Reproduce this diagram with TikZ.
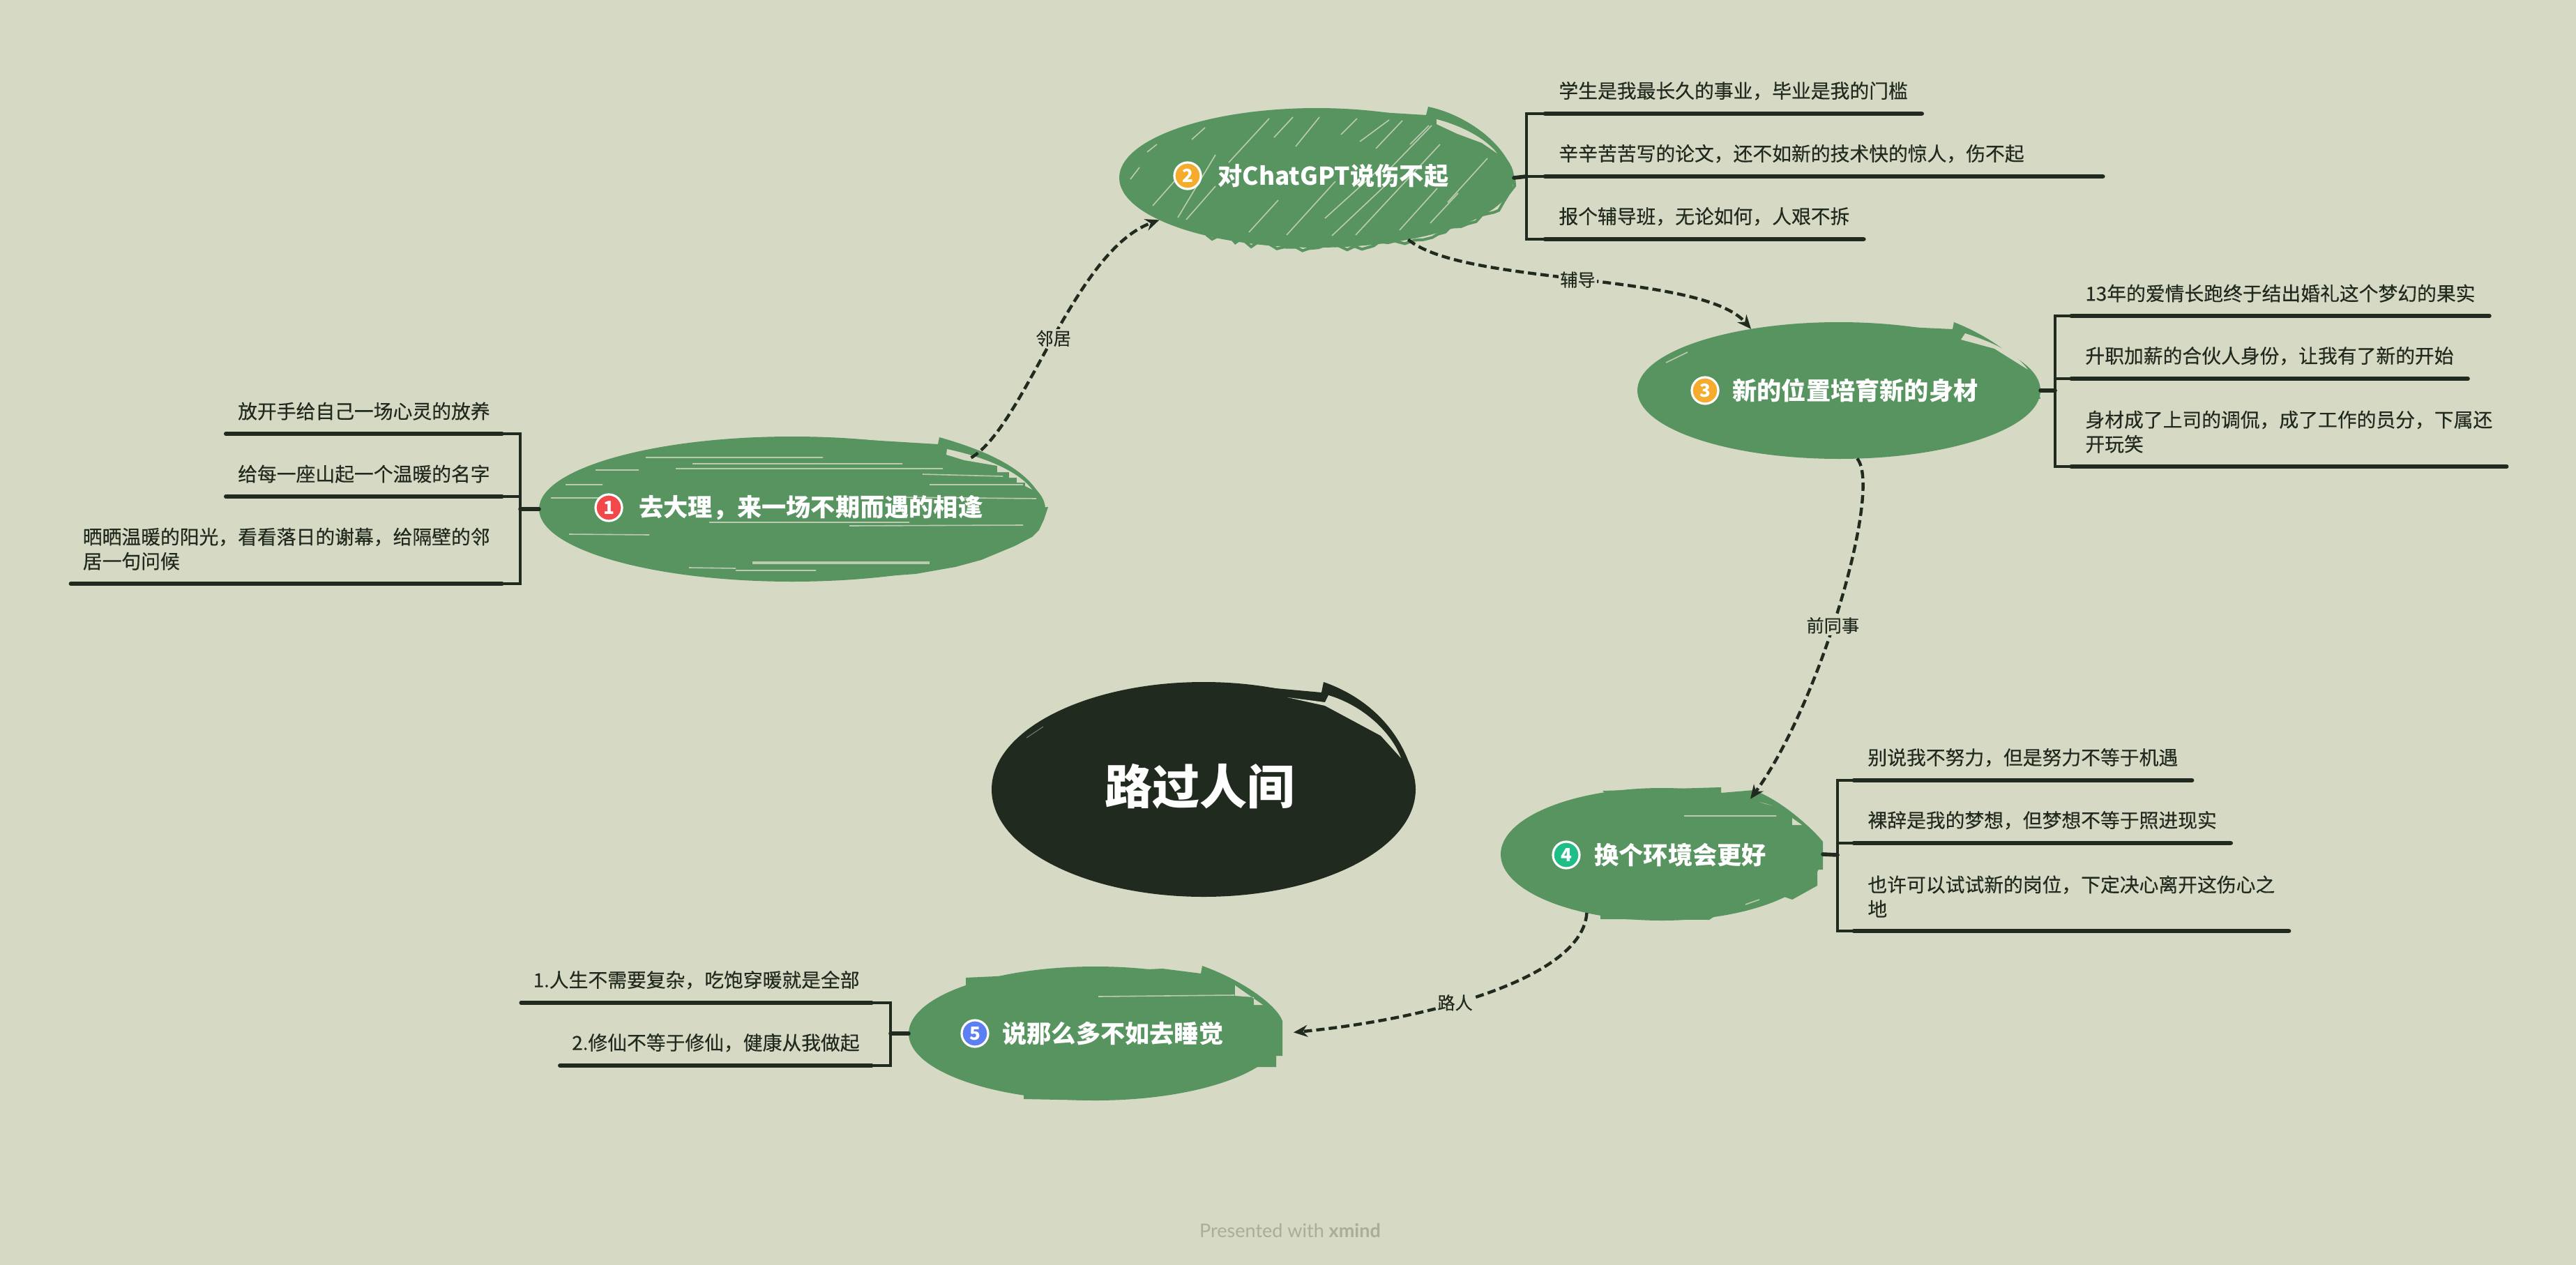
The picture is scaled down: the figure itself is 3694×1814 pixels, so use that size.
\documentclass[tikz,border=0pt]{standalone}
\usepackage{fontspec}
\usetikzlibrary{shapes.geometric,arrows.meta,decorations.pathmorphing}
\setmainfont{Noto Sans CJK SC}
\newfontfamily\subfont[FakeBold=0.35]{Noto Sans CJK SC}
\newfontfamily\markfont{Lato}
\definecolor{paper}{HTML}{D6D9C3}
\definecolor{leaf}{HTML}{579460}
\definecolor{ink}{HTML}{212A1E}
\definecolor{markgray}{HTML}{A9AE9A}
\begin{document}
\begin{tikzpicture}[x=0.5pt,y=-0.5pt,
  blob/.style={ellipse,fill=leaf,inner sep=0pt,outer sep=0pt},
  badge/.style={circle,draw=white,line width=1.6pt,minimum size=19pt,inner sep=0pt,text=white,font=\bfseries\fontsize{13}{13}\selectfont},
  topictext/.style={anchor=west,inner sep=0pt,text=white,font=\bfseries\fontsize{17.6}{20}\selectfont},
  subtext/.style={align=left,inner xsep=10pt,inner ysep=9.5pt,text=ink,font=\subfont\fontsize{13.9}{17.5}\selectfont},
  subleft/.style={subtext,anchor=south east,inner xsep=8.5pt},
  under/.style={draw=ink,line width=2.8pt,line cap=round},
  bracket/.style={draw=ink,line width=1.7pt},
  link/.style={draw=ink,line width=2.2pt,dash pattern=on 6pt off 3pt,-{Stealth[length=10pt,width=8.5pt]}},
  linklabel/.style={fill=paper,inner sep=1pt,text=ink,font=\subfont\fontsize{12.6}{14}\selectfont},
  streak/.style={draw=paper,line width=0.8pt,opacity=.8},
  rough/.style={draw=leaf,line width=2pt,decorate,decoration={random steps,segment length=6pt,amplitude=2.5pt}}]
\pgfmathsetseed{7}
\fill[paper] (0,0) rectangle (3694,1814);

% central
\node[blob,fill=ink,minimum width=304pt,minimum height=154pt] (central) at (1726,1132){};
\fill[ink] (1730,978) -- (1895,993) -- (1898,978) .. controls (1970,1003) and (2020,1060) .. (2030,1132) -- (1800,1100) -- cycle;
\fill[paper] (1905,997) .. controls (1955,1012) and (1995,1050) .. (2009,1087) -- (1980,1055) -- (1900,1012) -- (1846,1000) -- (1900,1007) -- cycle;
\draw[paper,line width=0.5pt,opacity=.5] (1472,1058) -- (1496,1042);
\node[text=white,inner sep=0pt,font=\bfseries\fontsize{34}{36}\selectfont] (title) at (1720,1128){路过人间};

% topic 1
\node[blob,minimum width=363pt,minimum height=104pt] (topic1) at (1136,730){};
\fill[leaf] (1180,627) -- (1345,637) -- (1347,627) .. controls (1410,645) and (1490,675) .. (1500,735) -- (1300,720) -- cycle;
\fill[leaf] (1503,727) -- (1497,745) -- (1490,760) -- (1480,770) -- (1455,783) -- (1407,803) -- (1370,813) -- (1313,823) -- (1217,830) -- (1200,760) -- cycle;
\fill[paper] (1358,644) .. controls (1410,655) and (1460,675) .. (1480,702) -- (1470,697) -- (1470,692) -- (1458,692) -- (1458,685) -- (1447,685) -- (1447,677) -- (1430,677) -- (1430,668) -- (1383,660) -- (1357,652) -- cycle;
\draw[streak] (926,656) -- (1180,656) (854,674) -- (916,674) (993,665) -- (1294,665) (969,672) -- (1352,672)
  (1323,680) -- (1438,683) (811,695) -- (864,695) (1333,695) -- (1467,695) (1285,713) -- (1486,715)
  (790,714) -- (870,714) (1017,749) -- (1304,749) (1218,754) -- (1467,753) (816,766) -- (931,767)
  (988,814) -- (1055,815) (1055,818) -- (1170,818);
\draw[streak,line width=1.8pt] (1079,807) -- (1333,807);
\node[badge,fill={rgb,255:red,242;green,72;blue,74}] (badge1) at (873,728){1};
\node[topictext] (text1) at (916,728){去大理，来一场不期而遇的相逢};

% topic 2
\node[blob,minimum width=283pt,minimum height=100pt] (topic2) at (1888,255){};
\fill[leaf] (1880,155) -- (2045,165) -- (2048,153) .. controls (2105,165) and (2165,210) .. (2172,258) -- (1980,240) -- cycle;
\draw[rough] (2171,255) arc[start angle=0,end angle=-125,x radius=140pt,y radius=50pt];
\fill[paper] (2060,171) .. controls (2095,180) and (2130,198) .. (2147,220) -- (2125,205) -- (2090,192) -- (2060,178) -- cycle;
\draw[streak] (1653,295) -- (1691,252) (1689,312) -- (1743,222) (1791,333) -- (1833,287) (1845,337) -- (1915,260)
  (1900,313) -- (1973,247) (1910,338) -- (1996,257) (1944,337) -- (2065,207) (2007,330) -- (2061,270)
  (2051,320) -- (2091,277) (2076,290) -- (2133,227) (1992,243) -- (2053,180) (1858,210) -- (1892,168)
  (1827,197) -- (1854,168) (1923,193) -- (1946,170) (1950,203) -- (1992,172) (1762,233) -- (1820,170)
  (1709,200) -- (1728,183) (1645,218) -- (1659,207) (1621,257) -- (1634,240) (1701,315) -- (1743,267)
  (1973,213) -- (2011,173) (2022,207) -- (2049,180);
\node[badge,fill={rgb,255:red,245;green,171;blue,43}] (badge2) at (1703,252){2};
\node[topictext] (text2) at (1746,252){对ChatGPT说伤不起};

% topic 3
\node[blob,minimum width=289pt,minimum height=98pt] (topic3) at (2637,560){};
\fill[leaf] (2650,465) -- (2800,472) -- (2802,462) .. controls (2860,485) and (2915,525) .. (2926,572) -- (2740,540) -- cycle;
\fill[paper] (2818,478) .. controls (2855,490) and (2890,505) .. (2908,530) -- (2860,500) -- (2812,487) -- cycle;
\draw[streak] (2389,520) -- (2420,505);
\node[badge,fill={rgb,255:red,245;green,171;blue,43}] (badge3) at (2445,560){3};
\node[topictext] (text3) at (2484,560){新的位置培育新的身材};

% topic 4
\node[blob,minimum width=231pt,minimum height=95pt] (topic4) at (2383,1225){};
\fill[leaf] (2298,1134) -- (2468,1129) -- (2468,1137) -- (2515,1133) .. controls (2560,1150) and (2605,1195) .. (2614,1207) -- (2614,1247) -- (2606,1247) -- (2606,1270) -- (2570,1290) -- (2400,1230) -- cycle;
\fill[leaf] (2295,1300) -- (2295,1318) -- (2451,1319) -- (2480,1300) -- cycle;
\fill[paper] (2523,1150) -- (2541,1155) -- (2532,1153) -- cycle (2570,1173) -- (2584,1183) -- (2570,1183) -- cycle;
\draw[streak] (2415,1170) -- (2547,1170) (2503,1297) -- (2523,1290);
\node[badge,fill={rgb,255:red,31;green,190;blue,134}] (badge4) at (2246,1226){4};
\node[topictext] (text4) at (2286,1226){换个环境会更好};

% topic 5
\node[blob,minimum width=268pt,minimum height=96pt] (topic5) at (1571,1482){};
\fill[leaf] (1385,1402) -- (1667,1389) -- (1722,1396) -- (1724,1385) .. controls (1780,1405) and (1830,1440) .. (1839,1464) -- (1839,1514) -- (1830,1514) -- (1830,1530) -- (1800,1530) -- (1600,1480) -- (1385,1430) -- cycle;
\fill[leaf] (1468,1560) -- (1468,1576) -- (1570,1578) -- (1620,1560) -- cycle;
\fill[paper] (1771,1413) -- (1811,1441) -- (1798,1441) -- (1798,1430) -- (1771,1428) -- cycle;
\draw[streak] (1575,1429) -- (1770,1427);
\node[badge,fill={rgb,255:red,92;green,127;blue,242}] (badge5) at (1398,1482){5};
\node[topictext] (text5) at (1437,1482){说那么多不如去睡觉};

% subtopics 1
\node[subleft] (s11) at (720,622){放开手给自己一场心灵的放养};
\node[subleft] (s12) at (720,712){给每一座山起一个温暖的名字};
\node[subleft] (s13) at (720,837){晒晒温暖的阳光，看看落日的谢幕，给隔壁的邻\\居一句问候};
\coordinate (b1) at (746,730);
\draw[under] (s11.south west) -- (s11.south east) (s12.south west) -- (s12.south east) (s13.south west) -- (s13.south east) (topic1.west) -- (b1);
\draw[bracket] (s11.south east) -| (b1) (s12.south east) -| (b1) (s13.south east) -| (b1);

% subtopics 2
\node[subtext,anchor=south west] (s21) at (2215,163){学生是我最长久的事业，毕业是我的门槛};
\node[subtext,anchor=south west,text width=380pt] (s22) at (2215,253){辛辛苦苦写的论文，还不如新的技术快的惊人，伤不起};
\node[subtext,anchor=south west] (s23) at (2215,343){报个辅导班，无论如何，人艰不拆};
\coordinate (b2) at (2189,253);
\draw[under] (s21.south west) -- (s21.south east) (s22.south west) -- (s22.south east) (s23.south west) -- (s23.south east) (topic2.east) -- (b2);
\draw[bracket] (s21.south west) -| (b2) (s22.south west) -| (b2) (s23.south west) -| (b2);

% subtopics 3
\node[subtext,anchor=south west] (s31) at (2970,453){13年的爱情长跑终于结出婚礼这个梦幻的果实};
\node[subtext,anchor=south west] (s32) at (2970,543){升职加薪的合伙人身份，让我有了新的开始};
\node[subtext,anchor=south west] (s33) at (2970,669){身材成了上司的调侃，成了工作的员分，下属还\\开玩笑};
\coordinate (b3) at (2947,560);
\draw[under] (s31.south west) -- (s31.south east) (s32.south west) -- (s32.south east) (s33.south west) -- (s33.south east) (topic3.east) -- (b3);
\draw[bracket] (s31.south west) -| (b3) (s32.south west) -| (b3) (s33.south west) -| (b3);

% subtopics 4
\node[subtext,anchor=south west] (s41) at (2658,1119){别说我不努力，但是努力不等于机遇};
\node[subtext,anchor=south west] (s42) at (2658,1209){裸辞是我的梦想，但梦想不等于照进现实};
\node[subtext,anchor=south west] (s43) at (2658,1335){也许可以试试新的岗位，下定决心离开这伤心之\\地};
\coordinate (b4) at (2635,1226);
\draw[under] (s41.south west) -- (s41.south east) (s42.south west) -- (s42.south east) (s43.south west) -- (s43.south east) (topic4.east) -- (b4);
\draw[bracket] (s41.south west) -| (b4) (s42.south west) -| (b4) (s43.south west) -| (b4);

% subtopics 5
\node[subleft] (s51) at (1250,1438){1.人生不需要复杂，吃饱穿暖就是全部};
\node[subleft] (s52) at (1250,1528){2.修仙不等于修仙，健康从我做起};
\coordinate (b5) at (1277,1482);
\draw[under] (s51.south west) -- (s51.south east) (s52.south west) -- (s52.south east) (topic5.west) -- (b5);
\draw[bracket] (s51.south east) -| (b5) (s52.south east) -| (b5);

% links
\draw[link] (topic1.16) .. controls (1470,610) and (1540,360) .. (topic2.195) node[linklabel,pos=.5] (lab12){邻居};
\draw[link] (topic2.-34) .. controls (2100,410) and (2440,390) .. (topic3.145) node[linklabel,pos=.49] (lab23){辅导};
\draw[link] (topic3.-75) .. controls (2700,700) and (2610,1010) .. (topic4.32) node[linklabel,pos=.55] (lab34){前同事};
\draw[link,shorten >=8pt] (topic4.218) .. controls (2270,1400) and (2060,1460) .. (topic5.east) node[linklabel,pos=.6] (lab45){路人};

\node[text=markgray,inner sep=0pt,font=\markfont\fontsize{13.5}{15}\selectfont] (mark) at (1850,1765){Presented with \textbf{xmind}};
\end{tikzpicture}
\end{document}
